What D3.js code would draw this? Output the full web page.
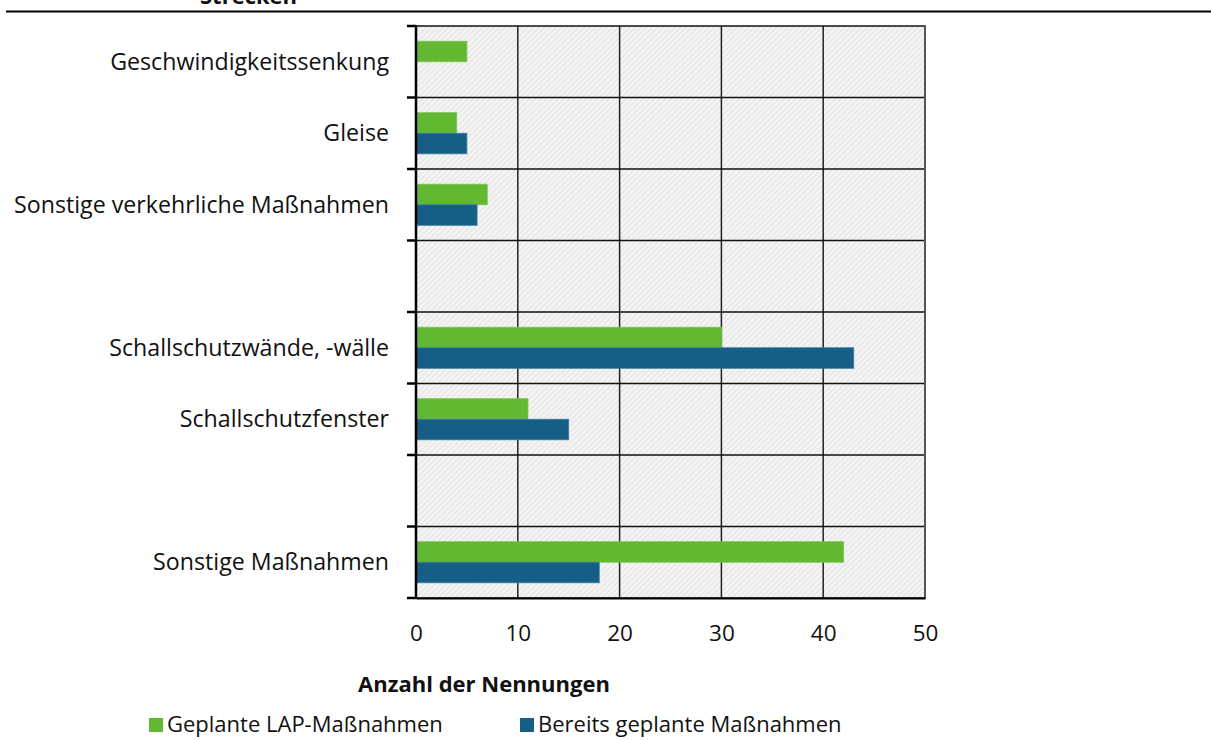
<!DOCTYPE html>
<html>
<head>
<meta charset="utf-8">
<script src="https://cdn.jsdelivr.net/npm/d3@7"></script>
<style>
  html, body { margin: 0; padding: 0; background: #fff; }
  svg { display: block; font-family: "Open Sans", "Noto Sans", sans-serif; }
</style>
</head>
<body>
<svg id="chart" width="1211" height="740"></svg>
<script>
// Rows from top to bottom; empty strings are spacer rows
const categories = [
  "Geschwindigkeitssenkung",
  "Gleise",
  "Sonstige verkehrliche Maßnahmen",
  "",
  "Schallschutzwände, -wälle",
  "Schallschutzfenster",
  "",
  "Sonstige Maßnahmen"
];
const seriesNames = ["Geplante LAP-Maßnahmen", "Bereits geplante Maßnahmen"];
const geplanteLAP = [5, 4, 7, null, 30, 11, null, 42];
const bereitsGeplant = [0, 5, 6, null, 43, 15, null, 18];
const xTicks = [0, 10, 20, 30, 40, 50];
const colors = ["#63b832", "#155e86"];

const svg = d3.select("#chart");
const plot = { left: 416, right: 925, top: 26, bottom: 598 };

// Hatched light-grey plot background
const defs = svg.append("defs");
const pat = defs.append("pattern")
  .attr("id", "hatch")
  .attr("patternUnits", "userSpaceOnUse")
  .attr("width", 4).attr("height", 4)
  .attr("patternTransform", "rotate(45)");
pat.append("rect").attr("width", 4).attr("height", 4).attr("fill", "#f3f3f3");
pat.append("rect").attr("width", 1).attr("height", 4).attr("fill", "#e3e3e3");

// Section title above the rule (partly outside the page)
svg.append("text")
  .attr("x", 200).attr("y", 4)
  .attr("font-size", 22).attr("font-weight", "bold").attr("fill", "#111")
  .text("Strecken");
svg.append("line")
  .attr("x1", 6).attr("x2", 1211).attr("y1", 11.5).attr("y2", 11.5)
  .attr("stroke", "#000").attr("stroke-width", 2.2);

const x = d3.scaleLinear().domain([0, 50]).range([plot.left, plot.right]);
const y = d3.scaleBand().domain(d3.range(categories.length)).range([plot.top, plot.bottom]);
const ySub = d3.scaleBand().domain([0, 1]).range([0, y.bandwidth()]).paddingOuter(0.74);

svg.append("rect")
  .attr("x", plot.left).attr("y", plot.top)
  .attr("width", plot.right - plot.left).attr("height", plot.bottom - plot.top)
  .attr("fill", "url(#hatch)");

// Vertical gridlines
svg.append("g").selectAll("line")
  .data(xTicks.slice(1, -1))
  .join("line")
  .attr("x1", d => x(d)).attr("x2", d => x(d))
  .attr("y1", plot.top).attr("y2", plot.bottom)
  .attr("stroke", "#222").attr("stroke-width", 1.5);

// Horizontal lines at row boundaries
const bounds = d3.range(categories.length + 1).map(i => plot.top + i * y.step());
svg.append("g").selectAll("line")
  .data(bounds)
  .join("line")
  .attr("x1", plot.left).attr("x2", plot.right)
  .attr("y1", d => d).attr("y2", d => d)
  .attr("stroke", "#111").attr("stroke-width", 1.5);

// Right border
svg.append("line")
  .attr("x1", plot.right).attr("x2", plot.right)
  .attr("y1", plot.top - 0.75).attr("y2", plot.bottom + 0.75)
  .attr("stroke", "#555").attr("stroke-width", 2);

// Bars
const rows = categories.map((c, i) => ({ i, values: [geplanteLAP[i], bereitsGeplant[i]] }));
const rowG = svg.append("g").selectAll("g")
  .data(rows)
  .join("g")
  .attr("transform", d => `translate(0,${y(d.i)})`);
rowG.selectAll("rect")
  .data(d => d.values.map((v, s) => ({ v, s })).filter(e => e.v))
  .join("rect")
  .attr("x", x(0))
  .attr("y", e => ySub(e.s))
  .attr("width", e => x(e.v) - x(0))
  .attr("height", ySub.bandwidth())
  .attr("fill", e => colors[e.s])
  .attr("stroke", e => e.s === 0 ? "#7cc552" : "#3a7ba0")
  .attr("stroke-width", 0.8);

// Left axis with tick marks on row boundaries
svg.append("line")
  .attr("x1", plot.left).attr("x2", plot.left)
  .attr("y1", plot.top - 1).attr("y2", plot.bottom + 1)
  .attr("stroke", "#000").attr("stroke-width", 2.5);
svg.append("g").selectAll("line")
  .data(bounds)
  .join("line")
  .attr("x1", plot.left - 9).attr("x2", plot.left)
  .attr("y1", d => d).attr("y2", d => d)
  .attr("stroke", "#000").attr("stroke-width", 2.5);

// Category labels
svg.append("g").selectAll("text")
  .data(rows.filter(r => categories[r.i]))
  .join("text")
  .attr("x", 389)
  .attr("y", r => y(r.i) + y.bandwidth() / 2 + 8)
  .attr("text-anchor", "end")
  .attr("font-size", 23.2)
  .attr("fill", "#111")
  .text(r => categories[r.i]);

// Bottom axis values
const xAxis = d3.axisBottom(x).tickValues(xTicks).tickSize(0).tickPadding(0);
const gx = svg.append("g").attr("transform", `translate(0,${plot.bottom})`).call(xAxis);
gx.select(".domain").attr("stroke", "#000").attr("stroke-width", 2);
gx.selectAll("text")
  .attr("font-size", 22.5).attr("fill", "#111")
  .attr("font-family", "\"Open Sans\", sans-serif")
  .attr("dy", null).attr("y", 43);

// Axis title
svg.append("text")
  .attr("x", 484).attr("y", 692)
  .attr("text-anchor", "middle")
  .attr("font-size", 22).attr("font-weight", "bold").attr("fill", "#111")
  .text("Anzahl der Nennungen");

// Legend
const legendX = [149, 520];
const lg = svg.append("g").selectAll("g")
  .data(seriesNames)
  .join("g")
  .attr("transform", (d, i) => `translate(${legendX[i]},0)`);
lg.append("rect")
  .attr("x", 0).attr("y", 718).attr("width", 14).attr("height", 14)
  .attr("fill", (d, i) => colors[i]);
lg.append("text")
  .attr("x", 18).attr("y", 732)
  .attr("font-size", 22).attr("fill", "#111")
  .text(d => d);
</script>
</body>
</html>
